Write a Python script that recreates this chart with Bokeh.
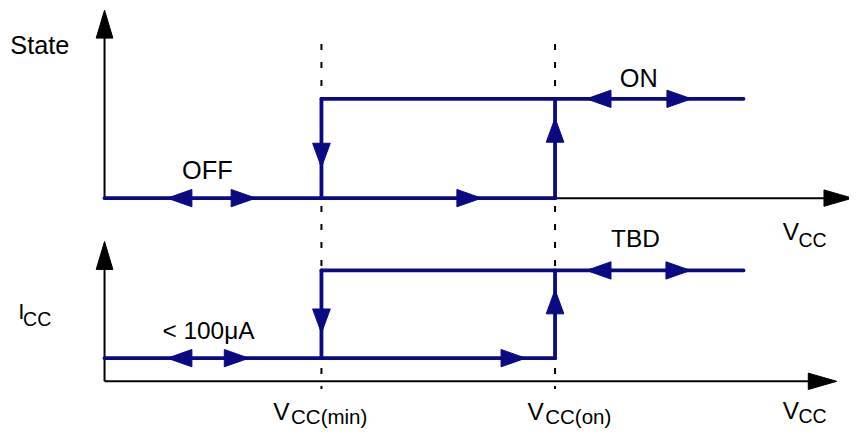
from bokeh.plotting import figure
from bokeh.models import Range1d
from bokeh.core.properties import value
from bokeh.embed import file_html
from bokeh.resources import INLINE

# ---------------- data (schematic units) ----------------
# x: supply voltage VCC in arbitrary units, origin at the axes' corner
vcc_thresholds = [2.21, 4.59]            # VCC(min), VCC(on)
threshold_labels = ["CC(min)", "CC(on)"]
vcc_sweep_end = 6.51                      # end of the traced characteristic
vcc_axis_end_top = 7.62
vcc_axis_end_bottom = 7.46

state_levels = [0.0, 1.0]                 # OFF, ON
icc_levels = [0.0, 1.0]                   # < 100uA, TBD
state_axis_top = 1.893
icc_axis_bottom = -0.264
icc_axis_top = 1.33

# direction markers along the hysteresis loop: (x, level, direction)
state_marks_x = [0.64, 1.54, 3.84, 2.21, 4.59, 4.91, 5.98]
state_marks_y = [0.0, 0.0, 0.0, 0.31, 0.806, 1.0, 1.0]
state_marks_dir = ["left", "right", "right", "down", "up", "left", "right"]
icc_marks_x = [0.64, 1.47, 4.29, 2.21, 4.59, 4.91, 5.97]
icc_marks_y = [0.0, 0.0, 0.0, 0.286, 0.78, 1.0, 1.0]
icc_marks_dir = ["left", "right", "right", "down", "up", "left", "right"]

# ---------------- layout ----------------
W, H = 849, 429            # canvas size
REF_W, REF_H = 865, 445    # drawing area being mapped onto the canvas
SX = 100.0        # drawing px per x unit
SY_S = 103.0      # drawing px per state unit
SY_I = 91.0       # drawing px per Icc unit
ORIGIN_X = 106    # drawing px of x = 0
STATE0 = 205      # drawing px of state = 0
ICC0 = 371        # drawing px of Icc = 0
TS = 0.975        # text scale

def X(px):
    return (px - ORIGIN_X) / SX

def YS(py):
    return (STATE0 - py) / SY_S

def YI(py):
    return (ICC0 - py) / SY_I

BLUE = "#0a0a82"
FONT = value("Liberation Sans")

p = figure(width=W, height=H, output_backend="svg", toolbar_location=None,
           x_range=Range1d(X(0), X(REF_W)), y_range=Range1d(YS(REF_H), YS(0)),
           x_axis_location=None, y_axis_location=None, min_border=0,
           background_fill_color="white", border_fill_color="white")
p.outline_line_color = None
p.grid.visible = False
p.extra_y_ranges = {"icc": Range1d(YI(REF_H), YI(0))}

DIRS = {"left": (-1, 0), "right": (1, 0), "up": (0, 1), "down": (0, -1)}

def heads(xs, ys, dirs, sy, length, width):
    pxs, pys = [], []
    for x, y, d in zip(xs, ys, dirs):
        dx, dy = DIRS[d]
        qx, qy = -dy, dx
        bx = x - dx * length / SX
        by = y - dy * length / sy
        pxs.append([x, bx + qx * width / 2 / SX, bx - qx * width / 2 / SX])
        pys.append([y, by + qy * width / 2 / sy, by - qy * width / 2 / sy])
    return pxs, pys

# ---- dashed threshold lines ----
for v in vcc_thresholds:
    p.segment(x0=[v], y0=[YS(45)], x1=[v], y1=[YS(403)],
              line_color="black", line_width=2, line_dash="6 12")

# ---- axes ----
p.segment(x0=[0, 0], y0=[state_levels[0], state_levels[0]],
          x1=[0, vcc_axis_end_top - 0.25], y1=[state_axis_top - 0.2, state_levels[0]],
          line_color="black", line_width=2)
hx, hy = heads([0, vcc_axis_end_top], [state_axis_top, state_levels[0]],
               ["up", "right"], SY_S, 29, 17)
p.patches(hx, hy, fill_color="black", line_color="black", line_width=1)

p.segment(x0=[0, 0], y0=[icc_axis_bottom, icc_axis_bottom],
          x1=[0, vcc_axis_end_bottom - 0.25], y1=[icc_axis_top - 0.25, icc_axis_bottom],
          line_color="black", line_width=2, y_range_name="icc")
hx, hy = heads([0, vcc_axis_end_bottom], [icc_axis_top, icc_axis_bottom],
               ["up", "right"], SY_I, 29, 17)
p.patches(hx, hy, fill_color="black", line_color="black", line_width=1,
          y_range_name="icc")

# ---- hysteresis traces ----
vmin, von = vcc_thresholds

def loop(levels):
    lo, hi = levels
    xs = [[0, von], [von, von], [vmin, vcc_sweep_end], [vmin, vmin]]
    ys = [[lo, lo], [lo, hi], [hi, hi], [hi, lo]]
    return xs, ys

xs, ys = loop(state_levels)
p.multi_line(xs, ys, line_color=BLUE, line_width=3.8, line_cap="round")
xs, ys = loop(icc_levels)
p.multi_line(xs, ys, line_color=BLUE, line_width=3.8, line_cap="round",
             y_range_name="icc")

hx, hy = heads(state_marks_x, state_marks_y, state_marks_dir, SY_S, 25, 18)
p.patches(hx, hy, fill_color=BLUE, line_color=BLUE, line_width=1)
hx, hy = heads(icc_marks_x, icc_marks_y, icc_marks_dir, SY_I, 25, 18)
p.patches(hx, hy, fill_color=BLUE, line_color=BLUE, line_width=1,
          y_range_name="icc")

# ---- text ----
def txt(px, py, s, size):
    p.text(x=[X(px)], y=[YS(py)], text=[s], text_font=FONT,
           text_font_size=f"{size * TS:.1f}px", text_color="black",
           text_align="left", text_baseline="alphabetic")

txt(10, 46, "State", 26)
txt(185, 176, "OFF", 26)
txt(631, 80, "ON", 26)
txt(797, 240, "V", 25)
txt(813, 248, "CC", 20)

txt(18, 323, "I", 23)
txt(23, 330, "CC", 20)
txt(165, 342, "< 100\u03bcA", 25)
txt(622, 247, "TBD", 25)

for v, lab in zip(vcc_thresholds, threshold_labels):
    vx = ORIGIN_X + v * SX
    off = 49 if "min" in lab else 28
    txt(vx - off, 426, "V", 25)
    txt(vx - off + 18, 432, lab, 21)

txt(797, 425, "V", 25)
txt(813, 431, "CC", 20)

open("out.html", "w").write(file_html(p, INLINE))
